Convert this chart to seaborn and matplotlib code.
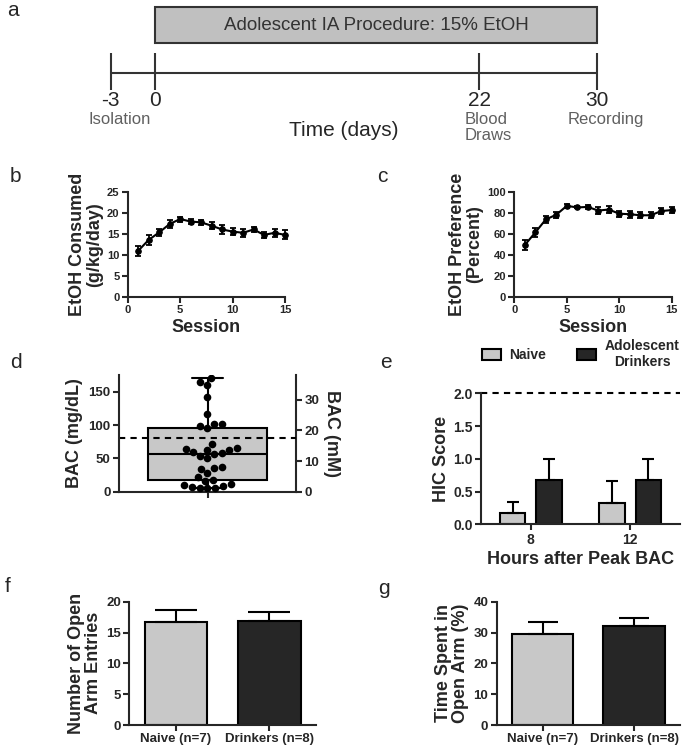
import matplotlib
matplotlib.use("Agg")
import matplotlib.pyplot as plt
import seaborn as sns
import pandas as pd
from matplotlib.patches import Patch

# --- DATA ---
timeline_days = [-3, 0, 22, 30]
timeline_events = ["Isolation", "", "Blood\nDraws", "Recording"]
proc_start, proc_end = 0, 30

sessions = list(range(1, 16))
etoh_mean = [11.0, 13.6, 15.4, 17.4, 18.6, 18.0, 17.8, 17.0, 16.1, 15.6, 15.3, 16.1, 14.8, 15.3, 14.8]
etoh_sem = [1.2, 1.2, 0.8, 0.9, 0.6, 0.7, 0.6, 0.9, 1.0, 0.8, 1.0, 0.7, 0.8, 0.9, 1.1]
pref_mean = [49.5, 61.5, 74.0, 78.5, 87.0, 85.5, 86.0, 82.5, 83.5, 79.5, 79.0, 78.0, 78.0, 82.0, 83.0]
pref_sem = [5.0, 4.5, 3.0, 3.0, 2.0, 1.0, 2.0, 3.0, 3.0, 3.0, 3.5, 3.0, 3.0, 3.0, 3.0]

bac_values = [170, 165, 160, 142, 116, 102, 101, 98, 95, 71, 65, 64, 63, 62, 60, 58, 57,
              54, 50, 37, 35, 34, 28, 22, 18, 16, 11, 10, 8, 7, 6, 6, 5]
bac_threshold = 80
mgdl_per_mm = 4.6

hic_hours = ["8", "12"]
hic_naive = [0.17, 0.33]
hic_naive_sem = [0.17, 0.33]
hic_drink = [0.67, 0.67]
hic_drink_sem = [0.33, 0.33]
hic_max = 2.0

groups = ["Naive (n=7)", "Drinkers (n=8)"]
entries_mean = [16.7, 16.9]
entries_sem = [2.0, 1.4]
time_mean = [29.4, 32.1]
time_sem = [4.0, 2.6]

light, dark = "#c8c8c8", "#262626"

sns.set_style("ticks")
plt.rcParams["font.family"] = ["Liberation Sans", "DejaVu Sans"]
plt.rcParams["font.weight"] = "bold"
plt.rcParams["axes.labelweight"] = "bold"

W, H = 689, 750
fig = plt.figure(figsize=(W / 100, H / 100), dpi=100)


def px_axes(left, top, right, bottom):
    return fig.add_axes([left / W, 1 - bottom / H, (right - left) / W, (bottom - top) / H])


def style_ax(ax, size):
    sns.despine(ax=ax)
    for s in ["left", "bottom"]:
        ax.spines[s].set_linewidth(1.5)
    ax.tick_params(width=1.5, length=4, labelsize=size, pad=2)


# --- PANEL A: timeline ---
px_per_day = (597 - 155) / 30
ax_a = fig.add_axes([0, 1 - 150 / H, 1, 150 / H])
ax_a.set_xlim(-155 / px_per_day, (W - 155) / px_per_day)
ax_a.set_ylim(150, 0)
ax_a.axis("off")
ax_a.barh(y=25.3, width=proc_end - proc_start, left=proc_start, height=36,
          color="#c0c0c0", edgecolor="#333333", lw=1.5)
ax_a.text((proc_start + proc_end) / 2, 25.3, "Adolescent IA Procedure: 15% EtOH",
          ha="center", va="center", fontsize=13.5, color="#333333", fontweight="normal")
ax_a.hlines(72.7, min(timeline_days), max(timeline_days), color="#333333", lw=1.5)
ax_a.vlines(timeline_days, 53, 90, color="#333333", lw=1.5)
for d, ev in zip(timeline_days, timeline_events):
    ax_a.text(d, 100, str(d), ha="center", va="center", fontsize=15, fontweight="normal")
    if ev:
        ax_a.text(d + 0.6, 112, ev, ha="center", va="top", fontsize=12, color="#606060",
                  fontweight="normal", multialignment="left", linespacing=1.1)
ax_a.text(12.8, 130, "Time (days)", ha="center", va="center", fontsize=15, fontweight="normal")


# --- PANELS B, C: line plots ---
def line_panel(ax, y, err, ymax, yticks, ylabel):
    sns.lineplot(x=sessions, y=y, ax=ax, color="black", marker="o", markersize=4,
                 lw=1.5, markeredgecolor="black")
    ax.errorbar(sessions, y, yerr=err, fmt="none", ecolor="black", elinewidth=1.3,
                capsize=2.5, capthick=1.3, clip_on=False)
    for ln in ax.lines:
        ln.set_clip_on(False)
    ax.set_xlim(0, 15)
    ax.set_ylim(0, ymax)
    ax.set_xticks([0, 5, 10, 15])
    ax.set_yticks(yticks)
    ax.set_xlabel("Session", fontsize=13, labelpad=3)
    ax.set_ylabel(ylabel, fontsize=13, linespacing=1.0, labelpad=3)
    style_ax(ax, 8)


ax_b = px_axes(127.7, 192.3, 285, 296.7)
line_panel(ax_b, etoh_mean, etoh_sem, 25, [0, 5, 10, 15, 20, 25], "EtOH Consumed\n(g/kg/day)")
ax_c = px_axes(514.3, 192.3, 671.7, 296.7)
line_panel(ax_c, pref_mean, pref_sem, 100, [0, 20, 40, 60, 80, 100], "EtOH Preference\n(Percent)")

# --- PANEL D: BAC box + swarm ---
ax_d = px_axes(119, 375, 296, 491.7)
sns.boxplot(y=bac_values, ax=ax_d, color=light, saturation=1, width=0.67, whis=(0, 100),
            linecolor="black", linewidth=1.5, showfliers=False, capwidths=0.18)
sns.swarmplot(y=bac_values, ax=ax_d, color="black", size=5.5)
ax_d.axhline(bac_threshold, ls="--", color="black", lw=1.5, dashes=(3, 2.5))
ax_d.set_xlim(-0.5, 0.5)
ax_d.set_ylim(0, 175)
ax_d.set_yticks([0, 50, 100, 150])
ax_d.set_xticks([0])
ax_d.set_xticklabels([""])
ax_d.set_ylabel("BAC (mg/dL)", fontsize=13)
style_ax(ax_d, 9.5)
sec = ax_d.secondary_yaxis("right", functions=(lambda v: v / mgdl_per_mm, lambda v: v * mgdl_per_mm))
sec.set_yticks([0, 10, 20, 30])
sec.spines["right"].set_linewidth(1.5)
sec.tick_params(width=1.5, length=4, labelsize=9.5, pad=2)
sec.set_ylabel("BAC (mM)", fontsize=13, rotation=270, labelpad=15)

# --- PANEL E: HIC score ---
ax_e = px_axes(481, 393.3, 680, 524.3)
df_e = pd.DataFrame({
    "hours": hic_hours * 2,
    "group": ["Naive"] * 2 + ["Adolescent\nDrinkers"] * 2,
    "score": hic_naive + hic_drink,
})
sns.barplot(data=df_e, x="hours", y="score", hue="group", order=hic_hours,
            palette=[light, dark], saturation=1, width=0.73, gap=0.3,
            edgecolor="black", linewidth=1.5, errorbar=None, ax=ax_e)
for cont, errs in zip(ax_e.containers, [hic_naive_sem, hic_drink_sem]):
    for bar, e in zip(cont, errs):
        ax_e.errorbar(bar.get_x() + bar.get_width() / 2, bar.get_height(), yerr=[[0], [e]],
                      fmt="none", ecolor="black", elinewidth=1.5, capsize=4, capthick=1.5, zorder=1)
ax_e.axhline(hic_max, ls="--", color="black", lw=1.5, dashes=(3, 2.5), clip_on=False)
ax_e.set_xlim(-0.5, 1.5)
ax_e.set_ylim(0, 2.0)
ax_e.set_yticks([0, 0.5, 1.0, 1.5, 2.0])
ax_e.set_yticklabels(["0.0", "0.5", "1.0", "1.5", "2.0"])
ax_e.set_xlabel("Hours after Peak BAC", fontsize=13, labelpad=3)
ax_e.set_ylabel("HIC Score", fontsize=13, labelpad=2)
style_ax(ax_e, 10)
handles = [Patch(facecolor=light, edgecolor="black", lw=1.5), Patch(facecolor=dark, edgecolor="black", lw=1.5)]
leg = ax_e.legend(handles, ["Naive", "Adolescent\nDrinkers"], ncol=2, frameon=False,
                  loc="lower center", bbox_to_anchor=(0.5, 1.09), fontsize=10,
                  handlelength=1.4, handleheight=0.9, columnspacing=2.2, handletextpad=0.6)
for t in leg.get_texts():
    t.set_multialignment("center")
    t.set_fontweight("bold")


# --- PANELS F, G: EPM bars ---
def bar_panel(ax, vals, errs, ymax, yticks, ylabel, cap):
    sns.barplot(x=groups, y=vals, hue=groups, palette=[light, dark], saturation=1,
                width=0.67, edgecolor="black", linewidth=1.5, errorbar=None, legend=False, ax=ax)
    for bar, e in zip(ax.patches, errs):
        ax.errorbar(bar.get_x() + bar.get_width() / 2, bar.get_height(), yerr=[[0], [e]],
                    fmt="none", ecolor="black", elinewidth=1.5, capsize=cap, capthick=1.5, zorder=1)
    ax.set_xlim(-0.5, 1.5)
    ax.set_ylim(0, ymax)
    ax.set_yticks(yticks)
    ax.set_ylabel(ylabel, fontsize=13, linespacing=1.0, labelpad=3)
    style_ax(ax, 9.5)


ax_f = px_axes(129.3, 601.7, 316, 725)
bar_panel(ax_f, entries_mean, entries_sem, 20, [0, 5, 10, 15, 20], "Number of Open\nArm Entries", 15)
ax_g = px_axes(496.7, 601.7, 680, 725)
bar_panel(ax_g, time_mean, time_sem, 40, [0, 10, 20, 30, 40], "Time Spent in\nOpen Arm (%)", 11)

# --- panel letters ---
for letter, x, y in [("a", 7, 11), ("b", 10, 176), ("c", 377, 177), ("d", 10, 362),
                     ("e", 380, 362), ("f", 5, 587), ("g", 378, 588)]:
    fig.text(x / W, 1 - y / H, letter, fontsize=15, fontweight="normal", va="center", ha="left")

fig.savefig("out.png", dpi=100)
